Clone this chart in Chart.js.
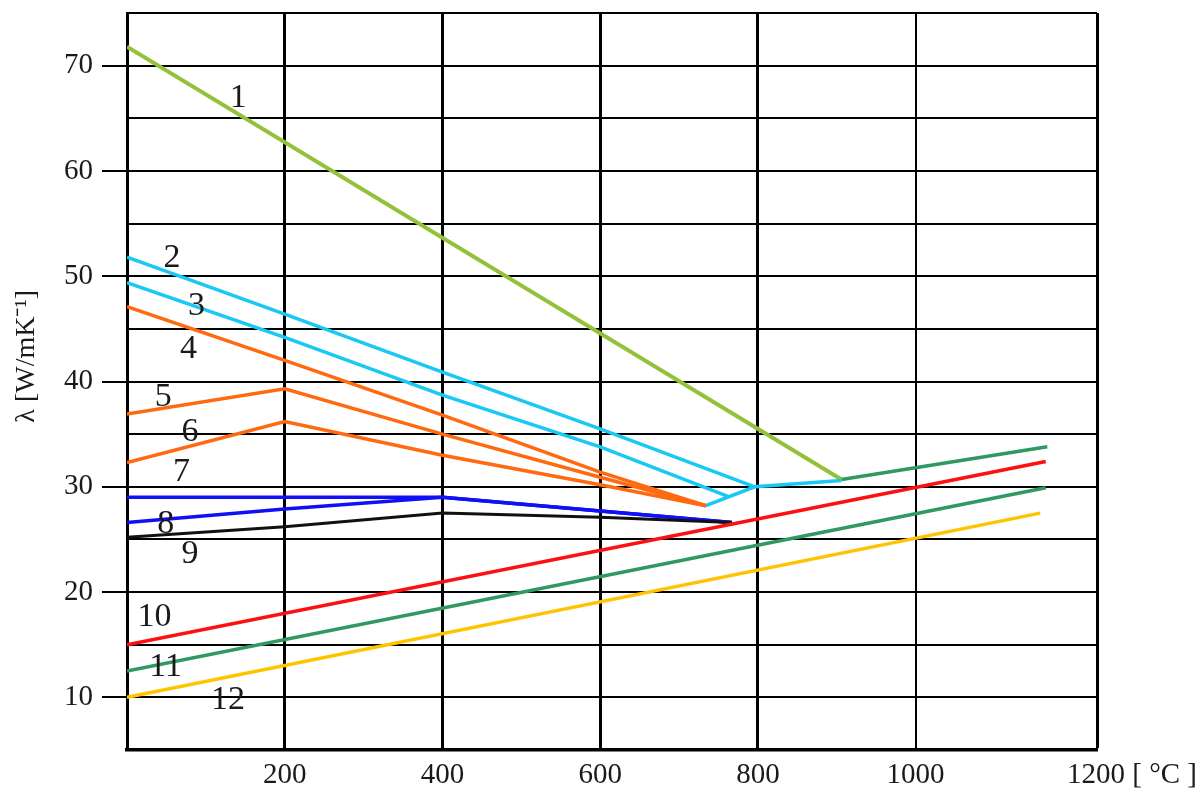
<!DOCTYPE html>
<html>
<head>
<meta charset="utf-8">
<title>Thermal conductivity of steels</title>
<script src="https://cdn.jsdelivr.net/npm/chart.js@4.4.1/dist/chart.umd.min.js"></script>
<style>
    html, body { margin: 0; padding: 0; background: #fff; }
    #wrap { width: 1199px; height: 789px; position: relative; }
</style>
</head>
<body>
<div id="wrap"><canvas id="lambdaChart"></canvas></div>
<script>
// Temperature [°C] / conductivity [W/mK] pairs for each curve
const curve1 = [[0, 71.8], [906, 30.7]];
const curve2 = [[0, 51.8], [200, 46.4], [400, 40.9], [600, 35.5], [796, 30.0]];
const curve3 = [[0, 49.4], [200, 44.2], [400, 38.7], [600, 33.8], [762, 29.1]];
const curve4 = [[0, 47.1], [200, 42.0], [400, 36.8], [600, 31.4], [734, 28.2]];
const curve5 = [[0, 36.9], [200, 39.3], [400, 35.0], [600, 30.9], [734, 28.2]];
const curve6 = [[0, 32.3], [200, 36.2], [400, 33.0], [600, 30.2], [734, 28.2]];
const curve7 = [[0, 29.0], [200, 29.0], [400, 29.0], [600, 27.7], [767, 26.6]];
const curve8 = [[0, 26.6], [200, 27.9], [400, 29.0], [600, 27.7], [767, 26.6]];
const curve9 = [[0, 25.2], [200, 26.2], [400, 27.5], [600, 27.1], [767, 26.6]];
const curve10 = [[0, 15.0], [1165, 32.4]];
const curve11 = [[0, 12.5], [1165, 29.9]];
const curve12 = [[0, 10.0], [1158, 27.5]];
// high temperature branches
const austeniteCyan = [[734, 28.2], [796, 30.0], [906, 30.6]];
const austeniteGreen = [[906, 30.7], [1167, 33.8]];

// curve numbers and where they sit (°C, W/mK)
const curveLabels = ['1', '2', '3', '4', '5', '6', '7', '8', '9', '10', '11', '12'];
const labelAt = [[141, 66.9], [57, 51.7], [88, 47.2], [78, 43.1], [46, 38.5], [80, 35.2],
                 [69, 31.4], [49, 26.5], [80, 23.6], [35, 17.6], [49, 12.9], [128, 9.7]];

const xTickValues = [200, 400, 600, 800, 1000];
const yTickValues = [10, 20, 30, 40, 50, 60, 70];

const colors = {
    lime: '#93c23a',
    cyan: '#19c9f5',
    orange: '#ff6a10',
    blue: '#1010f5',
    black: '#111111',
    red: '#ff1010',
    green: '#2f9960',
    yellow: '#ffc400'
};

const serif = '"Liberation Serif", "Times New Roman", serif';
const toPoints = arr => arr.map(p => ({ x: p[0], y: p[1] }));

function line(data, color, width) {
    return {
        data: toPoints(data),
        borderColor: color,
        borderWidth: width || 3.5,
        pointRadius: 0,
        tension: 0,
        fill: false
    };
}

// Curve numbers, axis title and the unit after the last x label
const annotations = {
    id: 'annotations',
    afterDraw(chart) {
        const ctx = chart.ctx;
        const xs = chart.scales.x;
        const ys = chart.scales.y;
        ctx.save();
        ctx.fillStyle = '#1a1a1a';
        ctx.textAlign = 'center';
        ctx.textBaseline = 'middle';
        ctx.font = '34px ' + serif;
        curveLabels.forEach((txt, i) => {
            ctx.fillText(txt, xs.getPixelForValue(labelAt[i][0]), ys.getPixelForValue(labelAt[i][1]));
        });

        // x unit, with 1200 sitting on the right edge of the frame
        ctx.font = '29px ' + serif;
        ctx.textAlign = 'left';
        ctx.fillText('1200 [ °C ]', chart.chartArea.right - 30, chart.chartArea.bottom + 25);

        // y title
        ctx.translate(27, ys.getPixelForValue(42.4));
        ctx.rotate(-Math.PI / 2);
        ctx.textAlign = 'center';
        ctx.font = '28px ' + serif;
        ctx.fillText('λ [W/mK⁻¹]', 0, 0);
        ctx.restore();
    }
};

const ctx = document.getElementById('lambdaChart').getContext('2d');
const lambdaChart = new Chart(ctx, {
    type: 'line',
    data: {
        datasets: [
            line(curve12, colors.yellow),
            line(curve11, colors.green),
            line(curve10, colors.red),
            line(austeniteGreen, colors.green),
            line(curve9, colors.black, 3),
            line(curve8, colors.blue),
            line(curve7, colors.blue),
            line(curve6, colors.orange),
            line(curve5, colors.orange),
            line(curve4, colors.orange),
            line(curve3, colors.cyan),
            line(curve2, colors.cyan),
            line(austeniteCyan, colors.cyan),
            line(curve1, colors.lime, 4)
        ]
    },
    options: {
        responsive: true,
        maintainAspectRatio: false,
        animation: false,
        layout: {
            padding: { left: 0, top: 13, right: 102, bottom: 0 }
        },
        plugins: {
            legend: { display: false },
            tooltip: { enabled: false }
        },
        scales: {
            x: {
                type: 'linear',
                min: 0,
                max: 1230,
                afterBuildTicks: scale => {
                    scale.ticks = [0, ...xTickValues, 1230].map(v => ({ value: v }));
                },
                afterFit: scale => {
                    scale.height = 39;
                    scale.paddingLeft = 0;
                    scale.paddingRight = 0;
                },
                ticks: {
                    padding: 8,
                    color: '#1a1a1a',
                    font: { family: serif, size: 29 },
                    callback: v => xTickValues.includes(v) ? String(v) : ''
                },
                grid: {
                    color: '#000',
                    lineWidth: c => (c.tick && c.tick.value > 0 && c.tick.value <= 800) || (c.tick && c.tick.value === 1230) ? 3 : 2,
                    drawTicks: false
                },
                border: { display: true, color: '#000', width: 3.5 }
            },
            y: {
                min: 5,
                max: 75,
                afterFit: scale => {
                    scale.width = 127;
                    scale.paddingTop = 0;
                    scale.paddingBottom = 0;
                },
                ticks: {
                    stepSize: 5,
                    padding: 9,
                    color: '#1a1a1a',
                    font: { family: serif, size: 29 },
                    callback: v => yTickValues.includes(v) ? String(v) : ''
                },
                grid: {
                    color: '#000',
                    lineWidth: 2,
                    tickLength: 25,
                    tickColor: c => yTickValues.includes(c.tick.value) ? '#000' : 'rgba(0,0,0,0)'
                },
                border: { display: true, color: '#000', width: 3 }
            }
        }
    },
    plugins: [annotations]
});
</script>
</body>
</html>
